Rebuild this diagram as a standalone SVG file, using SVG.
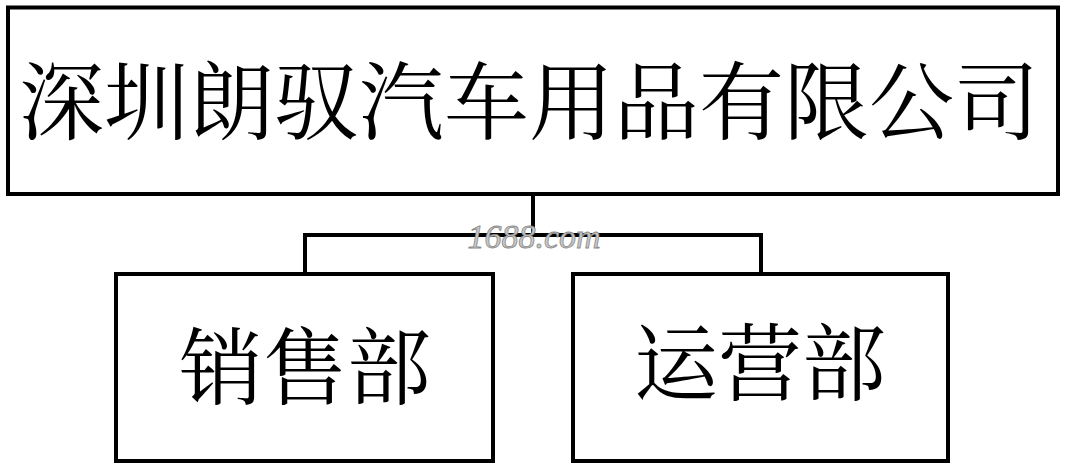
<svg xmlns="http://www.w3.org/2000/svg" width="1069" height="472" viewBox="0 0 1069 472">
<style>
.box{fill:#fff;stroke:#000;stroke-width:4}
.conn{fill:none;stroke:#000;stroke-width:4}
.t{font-family:"Noto Serif CJK SC","Noto Sans CJK SC",serif;fill:#000;text-anchor:middle}
.wm{font-family:"Liberation Serif",serif;font-style:italic;font-size:34px;fill:#c8c8c8;stroke:#8a8a8a;stroke-width:0.8;text-anchor:middle}
</style>
<rect width="1069" height="472" fill="#fff"/>
<g id="connectors">
<path class="conn" d="M533 194 V235 M305 235 H761 M305 233 V274 M761 233 V274"/>
</g>
<g id="company">
<rect class="box" x="8" y="7.5" width="1050" height="186.5"/>
<text class="t" x="529" y="133" font-size="85">深圳朗驭汽车用品有限公司</text>
</g>
<g id="sales">
<rect class="box" x="116" y="274" width="377" height="187"/>
<text class="t" x="305" y="398" font-size="84">销售部</text>
</g>
<g id="operations">
<rect class="box" x="573" y="274" width="375" height="187"/>
<text class="t" x="760" y="394" font-size="84">运营部</text>
</g>
<text class="wm" x="534" y="248">1688.com</text>
</svg>
